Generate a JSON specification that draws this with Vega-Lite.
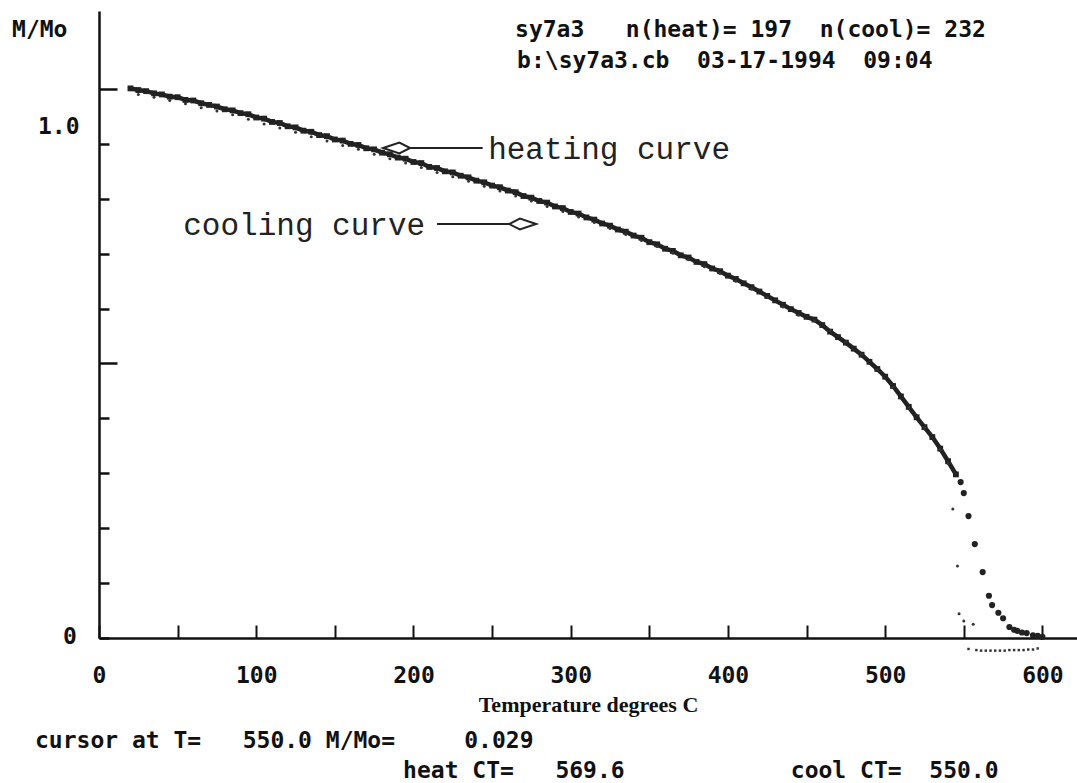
{
  "$schema": "https://vega.github.io/schema/vega-lite/v6.json",
  "width": 978,
  "height": 627,
  "autosize": "none",
  "padding": {"left": 99, "top": 11, "right": 0, "bottom": 145},
  "background": "white",
  "config": {"view": {"stroke": null}, "axis": {"grid": false}},
  "datasets": {
    "heat": [
      {"T":20,"M":1.001},{"T":25,"M":0.998},{"T":30,"M":0.996},{"T":35,"M":0.992},{"T":40,"M":0.990},{"T":45,"M":0.986},
      {"T":50,"M":0.985},{"T":55,"M":0.980},{"T":60,"M":0.979},{"T":65,"M":0.974},{"T":70,"M":0.971},{"T":75,"M":0.968},
      {"T":80,"M":0.963},{"T":85,"M":0.961},{"T":90,"M":0.956},{"T":95,"M":0.954},{"T":100,"M":0.948},{"T":105,"M":0.946},
      {"T":110,"M":0.940},{"T":115,"M":0.938},{"T":120,"M":0.932},{"T":125,"M":0.930},{"T":130,"M":0.924},{"T":135,"M":0.922},
      {"T":140,"M":0.916},{"T":145,"M":0.914},{"T":150,"M":0.908},{"T":155,"M":0.906},{"T":160,"M":0.900},{"T":165,"M":0.898},
      {"T":170,"M":0.892},{"T":175,"M":0.890},{"T":180,"M":0.884},{"T":185,"M":0.881},{"T":190,"M":0.875},{"T":195,"M":0.873},
      {"T":200,"M":0.867},{"T":205,"M":0.865},{"T":210,"M":0.858},{"T":215,"M":0.856},{"T":220,"M":0.850},{"T":225,"M":0.848},
      {"T":230,"M":0.842},{"T":235,"M":0.839},{"T":240,"M":0.833},{"T":245,"M":0.830},{"T":250,"M":0.824},{"T":255,"M":0.821},
      {"T":260,"M":0.815},{"T":265,"M":0.812},{"T":270,"M":0.805},{"T":275,"M":0.802},{"T":280,"M":0.796},{"T":285,"M":0.793},
      {"T":290,"M":0.786},{"T":295,"M":0.783},{"T":300,"M":0.776},{"T":305,"M":0.773},{"T":310,"M":0.766},{"T":315,"M":0.762},
      {"T":320,"M":0.755},{"T":325,"M":0.751},{"T":330,"M":0.744},{"T":335,"M":0.740},{"T":340,"M":0.733},{"T":345,"M":0.729},
      {"T":350,"M":0.721},{"T":355,"M":0.717},{"T":360,"M":0.709},{"T":365,"M":0.705},{"T":370,"M":0.697},{"T":375,"M":0.693},
      {"T":380,"M":0.685},{"T":385,"M":0.681},{"T":390,"M":0.673},{"T":395,"M":0.668},{"T":400,"M":0.660},{"T":405,"M":0.654},
      {"T":410,"M":0.646},{"T":415,"M":0.639},{"T":420,"M":0.631},{"T":425,"M":0.623},{"T":430,"M":0.615},{"T":435,"M":0.607},
      {"T":440,"M":0.599},{"T":445,"M":0.592},{"T":450,"M":0.585},{"T":455,"M":0.580},{"T":460,"M":0.570},{"T":465,"M":0.558},
      {"T":470,"M":0.548},{"T":475,"M":0.538},{"T":480,"M":0.527},{"T":485,"M":0.516},{"T":490,"M":0.503},{"T":495,"M":0.490},
      {"T":500,"M":0.476},{"T":505,"M":0.459},{"T":510,"M":0.440},{"T":515,"M":0.421},{"T":520,"M":0.402},{"T":525,"M":0.384},
      {"T":530,"M":0.366},{"T":535,"M":0.345},{"T":540,"M":0.322},{"T":545,"M":0.298}
    ],
    "heatTail": [
      {"T":548,"M":0.284},{"T":550,"M":0.264},{"T":553,"M":0.222},{"T":557,"M":0.171},{"T":562,"M":0.120},{"T":566,"M":0.077},
      {"T":568,"M":0.060},{"T":572,"M":0.046},{"T":575,"M":0.036},{"T":579,"M":0.020},{"T":582,"M":0.015},{"T":584,"M":0.013},
      {"T":587,"M":0.010},{"T":590,"M":0.009},{"T":594,"M":0.005},{"T":597,"M":0.004},{"T":600,"M":0.002}
    ],
    "cool": [
      {"T":25,"M":0.990},{"T":35,"M":0.985},{"T":45,"M":0.979},{"T":55,"M":0.973},{"T":65,"M":0.966},{"T":75,"M":0.960},
      {"T":85,"M":0.953},{"T":95,"M":0.945},{"T":105,"M":0.936},{"T":115,"M":0.929},{"T":125,"M":0.921},{"T":135,"M":0.913},
      {"T":145,"M":0.905},{"T":155,"M":0.897},{"T":165,"M":0.890},{"T":175,"M":0.881},{"T":185,"M":0.873},{"T":195,"M":0.865},
      {"T":205,"M":0.857},{"T":215,"M":0.848},{"T":225,"M":0.840},{"T":235,"M":0.832},{"T":245,"M":0.823},{"T":255,"M":0.814},
      {"T":265,"M":0.805},{"T":275,"M":0.796},{"T":285,"M":0.786},{"T":295,"M":0.777},{"T":305,"M":0.767},{"T":315,"M":0.757},
      {"T":325,"M":0.746},{"T":335,"M":0.735},{"T":345,"M":0.724},{"T":355,"M":0.713},{"T":365,"M":0.701},{"T":375,"M":0.689},
      {"T":385,"M":0.676},{"T":395,"M":0.664},{"T":405,"M":0.650},{"T":415,"M":0.635},{"T":425,"M":0.620},{"T":435,"M":0.603},
      {"T":445,"M":0.588},{"T":455,"M":0.578},{"T":465,"M":0.560},{"T":475,"M":0.540},{"T":485,"M":0.517},{"T":495,"M":0.489},
      {"T":505,"M":0.457},{"T":515,"M":0.420},{"T":525,"M":0.383},{"T":535,"M":0.343},{"T":540,"M":0.318},{"T":543,"M":0.235},
      {"T":546,"M":0.131},{"T":547,"M":0.044},{"T":550,"M":0.031},{"T":556,"M":0.025}
    ],
    "coolBelow": [
      {"T":553,"M":-0.020},{"T":558,"M":-0.022},{"T":561,"M":-0.023},{"T":564,"M":-0.023},{"T":567,"M":-0.023},{"T":570,"M":-0.023},
      {"T":573,"M":-0.023},{"T":576,"M":-0.023},{"T":579,"M":-0.022},{"T":582,"M":-0.022},{"T":585,"M":-0.022},{"T":588,"M":-0.022},
      {"T":591,"M":-0.021},{"T":594,"M":-0.021},{"T":597,"M":-0.019}
    ],
    "arrows": [
      {"T1":197.8,"T2":244,"M":0.8925},
      {"T1":215,"T2":261.5,"M":0.754}
    ],
    "heads": [
      {"T":189.3,"M":0.8925,"dir":"L"},
      {"T":269.4,"M":0.754,"dir":"R"}
    ],
    "notes": [
      {"T":247.5,"M":0.889,"text":"heating curve","k":"left"},
      {"T":207.4,"M":0.750,"text":"cooling curve","k":"right"}
    ],
    "dos": [
      {"T":264.6,"M":1.1075,"text":"sy7a3\u00a0\u00a0\u00a0n(heat)=\u00a0197\u00a0\u00a0n(cool)=\u00a0232"},
      {"T":265.9,"M":1.051,"text":"b:\\sy7a3.cb\u00a0\u00a003-17-1994\u00a0\u00a009:04"},
      {"T":-55.3,"M":1.107,"text":"M/Mo"},
      {"T":-38.8,"M":0.931,"text":"1.0"},
      {"T":-22.9,"M":0.002,"text":"0"},
      {"T":-40.7,"M":-0.187,"text":"cursor\u00a0at\u00a0T=\u00a0\u00a0\u00a0550.0\u00a0M/Mo=\u00a0\u00a0\u00a0\u00a0\u00a00.029"},
      {"T":193.4,"M":-0.242,"text":"heat\u00a0CT=\u00a0\u00a0\u00a0569.6\u00a0\u00a0\u00a0\u00a0\u00a0\u00a0\u00a0\u00a0\u00a0\u00a0\u00a0\u00a0cool\u00a0CT=\u00a0\u00a0550.0"}
    ]
  },
  "encoding": {
    "x": {
      "field": "T", "type": "quantitative",
      "scale": {"domain": [0, 622], "nice": false, "zero": false},
      "axis": {
        "values": [0,50,100,150,200,250,300,350,400,450,500,550,600],
        "labelExpr": "datum.value % 100 === 0 ? datum.label : ''",
        "format": "d",
        "tickSize": -13, "tickWidth": 2, "tickColor": "#111",
        "domainColor": "#111", "domainWidth": 2.5,
        "labelFont": "DejaVu Sans Mono", "labelFontWeight": "bold", "labelFontSize": 23, "labelColor": "#111",
        "labelPadding": 39, "labelFlush": false, "labelOverlap": false,
        "title": "Temperature degrees C",
        "titleFont": "Liberation Serif", "titleFontWeight": "bold", "titleFontSize": 22, "titleColor": "#111",
        "titlePadding": 7
      }
    },
    "y": {
      "field": "M", "type": "quantitative",
      "scale": {"domain": [0, 1.142], "nice": false, "zero": false},
      "axis": {
        "values": [0,0.1,0.2,0.3,0.4,0.5,0.6,0.7,0.8,0.9,1.0],
        "labels": false, "title": null,
        "tickSize": {"condition": {"test": "abs(datum.value - 0.5) < 0.01 || abs(datum.value - 1) < 0.01", "value": -18}, "value": -10},
        "tickWidth": 2.5, "tickColor": "#111",
        "domainColor": "#111", "domainWidth": 2.5
      }
    }
  },
  "layer": [
    {"data": {"name": "heat"}, "mark": {"type": "line", "color": "#222", "strokeWidth": 4.5}},
    {"data": {"name": "heat"}, "mark": {"type": "point", "shape": "square", "filled": true, "size": 34, "color": "#222", "opacity": 1}},
    {"data": {"name": "heatTail"}, "mark": {"type": "circle", "size": 38, "color": "#222", "opacity": 1}},
    {"data": {"name": "cool"}, "mark": {"type": "circle", "size": 9, "color": "#333", "opacity": 1}},
    {"data": {"name": "coolBelow"}, "mark": {"type": "point", "shape": "square", "filled": true, "size": 6, "color": "#333", "opacity": 1}},
    {
      "data": {"name": "arrows"},
      "mark": {"type": "rule", "color": "#222", "strokeWidth": 2},
      "encoding": {
        "x": {"field": "T1", "type": "quantitative"},
        "x2": {"field": "T2"},
        "y": {"field": "M", "type": "quantitative"}
      }
    },
    {
      "data": {"name": "heads"},
      "transform": [{"filter": "datum.dir === 'L'"}],
      "mark": {"type": "point", "shape": "M -1 0 L 0.2 -0.4 L 1 0 L 0.2 0.4 Z", "size": 729, "filled": false, "fill": "white", "stroke": "#222", "strokeWidth": 2, "opacity": 1}
    },
    {
      "data": {"name": "heads"},
      "transform": [{"filter": "datum.dir === 'R'"}],
      "mark": {"type": "point", "shape": "M 1 0 L -0.2 -0.4 L -1 0 L -0.2 0.4 Z", "size": 729, "filled": false, "fill": "white", "stroke": "#222", "strokeWidth": 2, "opacity": 1}
    },
    {
      "data": {"name": "notes"},
      "transform": [{"filter": "datum.k === 'left'"}],
      "mark": {"type": "text", "font": "Liberation Mono", "fontSize": 31, "align": "left", "baseline": "middle", "color": "#222"},
      "encoding": {"text": {"field": "text"}}
    },
    {
      "data": {"name": "notes"},
      "transform": [{"filter": "datum.k === 'right'"}],
      "mark": {"type": "text", "font": "Liberation Mono", "fontSize": 31, "align": "right", "baseline": "middle", "color": "#222"},
      "encoding": {"text": {"field": "text"}}
    },
    {
      "data": {"name": "dos"},
      "mark": {"type": "text", "font": "DejaVu Sans Mono", "fontWeight": "bold", "fontSize": 23, "align": "left", "baseline": "middle", "color": "#111"},
      "encoding": {"text": {"field": "text"}}
    }
  ]
}
